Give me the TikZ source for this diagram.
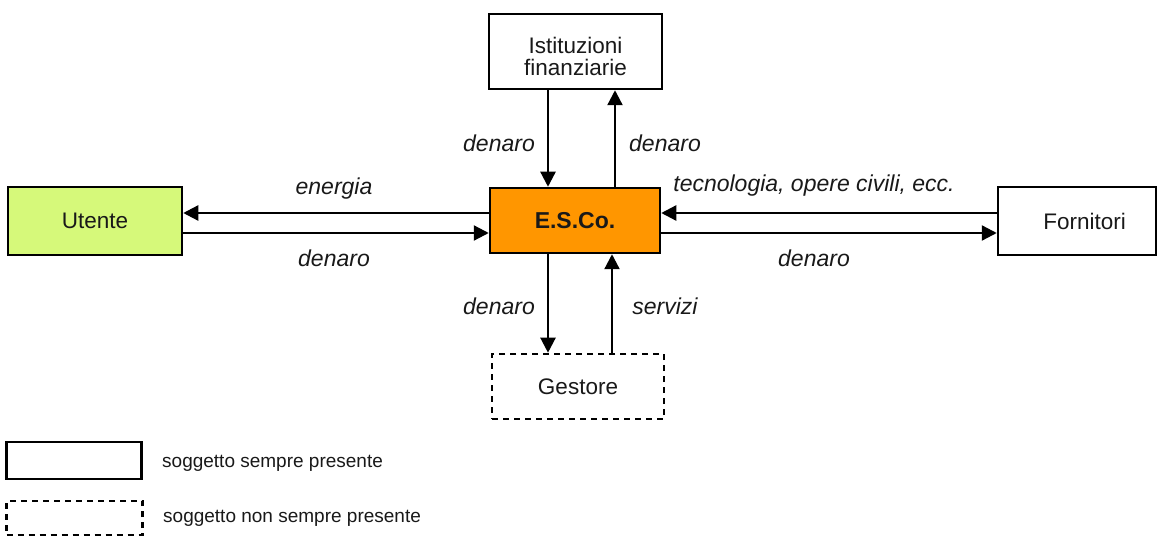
\documentclass[tikz,border=0pt]{standalone}
\usepackage{fontspec}
\setmainfont{Liberation Sans}
\usetikzlibrary{arrows.meta}
\definecolor{txt}{RGB}{25,25,25}
\definecolor{usergreen}{RGB}{214,249,122}
\definecolor{escoorange}{RGB}{255,150,0}
\tikzset{
  box/.style={draw=black, line width=2.5pt, minimum width=#1, inner sep=0pt, align=center, text=txt,
     font=\fontsize{22.5}{21}\selectfont},
  box/.default=170pt,
  dbox/.style={box=#1, dash pattern=on 6pt off 5pt, line width=2.6pt},
  flow/.style={line width=2.3pt, -{Triangle[length=15pt,width=15pt]}},
  lbl/.style={anchor=base, inner sep=0pt, text=txt, font=\fontsize{23}{24}\selectfont\itshape},
  leg/.style={anchor=base west, inner sep=0pt, text=txt, font=\fontsize{19}{22}\selectfont},
}
\begin{document}
\begin{tikzpicture}[x=1pt,y=-1pt]
\useasboundingbox (0,0) rectangle (1159,537);
% boxes
\node[box=173pt, minimum height=75pt] (ist) at (575.5,51.5) {\raisebox{0pt}[\dimexpr\height+16pt\relax][\depth]{\begin{tabular}{@{}c@{}}Istituzioni\\finanziarie\end{tabular}}};
\node[box=170pt, minimum height=65pt, fill=escoorange, font=\fontsize{23}{24}\selectfont\bfseries] (esco) at (575,220.5) {E.S.Co.};
\node[box=174pt, minimum height=68pt, fill=usergreen] (ut) at (95,221) {Utente};
\node[box=158pt, minimum height=68pt] (forn) at (1077,221) {\hspace*{15pt}Fornitori};
\node[dbox=172pt, minimum height=65pt] (gest) at (578,386.5) {Gestore};
% connectors
\draw[flow] (ist.south -| 548,0) -- (esco.north -| 548,0);
\draw[flow] (esco.north -| 615,0) -- (ist.south -| 615,0);
\draw[flow] (esco.west |- 0,213) -- (ut.east |- 0,213);
\draw[flow] (ut.east |- 0,233) -- (esco.west |- 0,233);
\draw[flow] (forn.west |- 0,213) -- (esco.east |- 0,213);
\draw[flow] (esco.east |- 0,233) -- (forn.west |- 0,233);
\draw[flow] (esco.south -| 548,0) -- (gest.north -| 548,0);
\draw[flow] (gest.north -| 612,0) -- (esco.south -| 612,0);
% labels
\node[lbl] (l1) at (499,152) {denaro};
\node[lbl] (l2) at (665,152) {denaro};
\node[lbl] (l3) at (334,195) {energia};
\node[lbl] (l4) at (334,267) {denaro};
\node[lbl] (l5) at (814,192) {tecnologia, opere civili, ecc.};
\node[lbl] (l6) at (814,267) {denaro};
\node[lbl] (l7) at (499,315) {denaro};
\node[lbl] (l8) at (665,315) {servizi};
% legend
\node[box=135pt, minimum height=37pt] (leg1) at (74,460.5) {};
\node[dbox=136pt, minimum height=34pt] (leg2) at (74.5,518) {};
\node[leg] (t1) at (162,467) {soggetto sempre presente};
\node[leg] (t2) at (163,522) {soggetto non sempre presente};
\end{tikzpicture}
\end{document}
